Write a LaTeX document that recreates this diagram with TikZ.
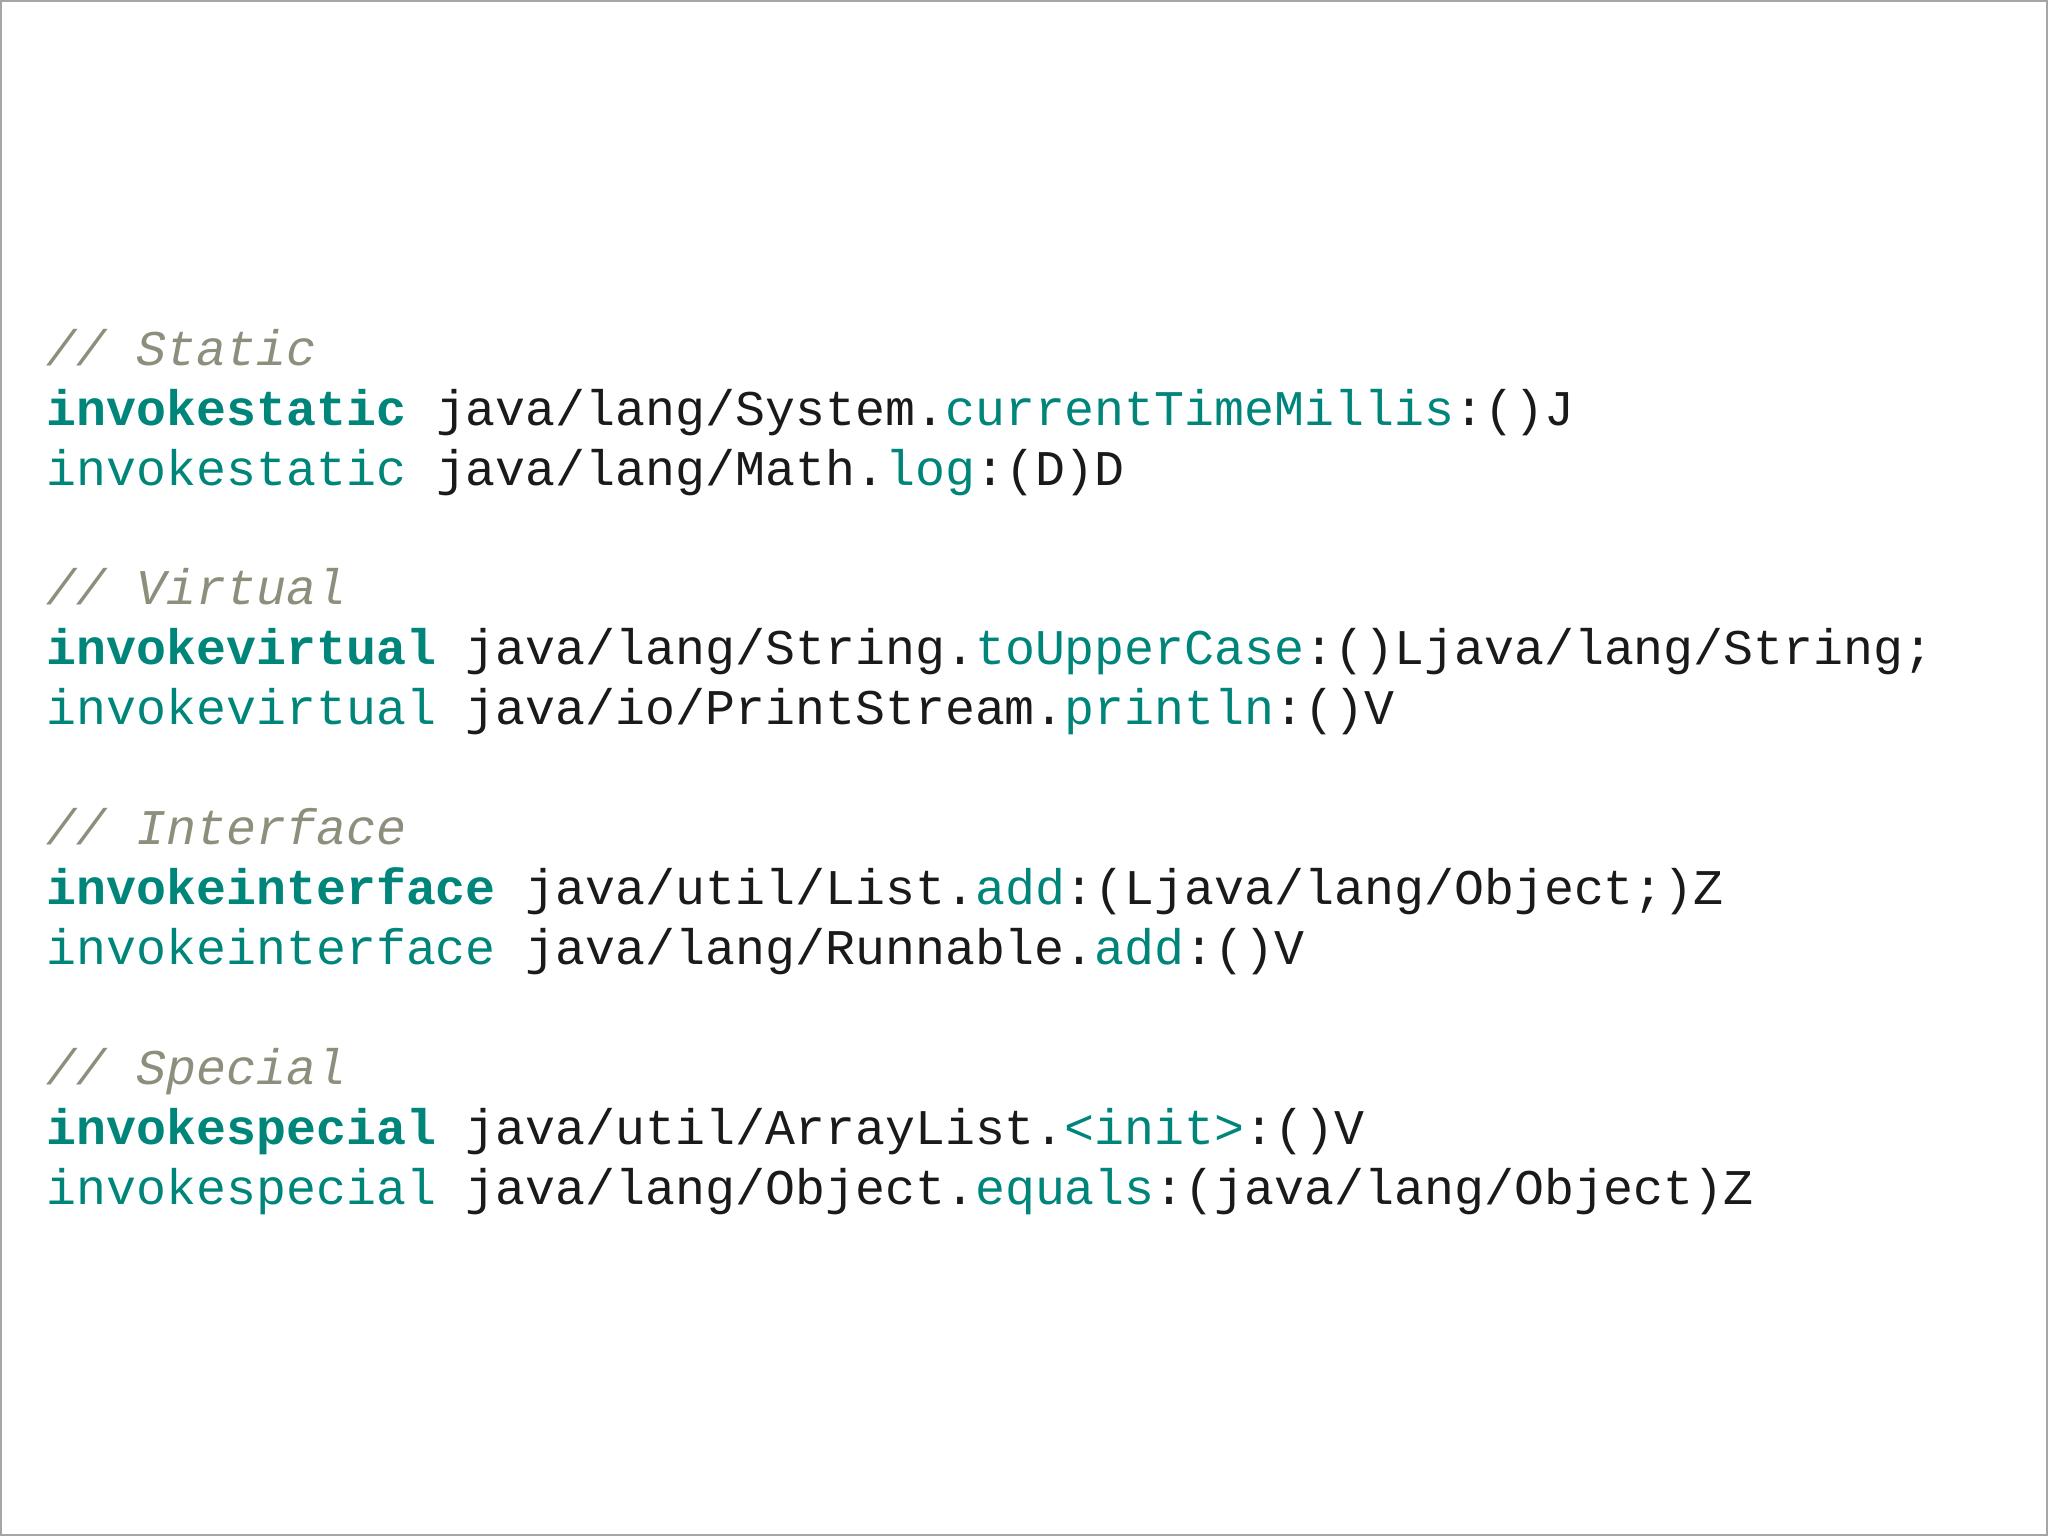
\documentclass[tikz,border=0pt]{standalone}
\usepackage{fontspec}
\setmonofont{Liberation Mono}
\definecolor{tealc}{HTML}{00857A}
\definecolor{cmtc}{HTML}{8E8E7C}
\definecolor{txtc}{HTML}{1A1A1A}
\begin{document}
\begin{tikzpicture}[x=1cm,y=1cm,
  codeline/.style={anchor=base west,inner sep=0pt,font=\ttfamily\fontsize{14.2pt}{16pt}\selectfont,text=txtc},
  cmtline/.style={codeline,font=\ttfamily\itshape\fontsize{14.2pt}{16pt}\selectfont,text=cmtc}]
\newcommand{\kw}[1]{\textcolor{tealc}{#1}}
\newcommand{\kb}[1]{\textcolor{tealc}{\bfseries #1}}
\fill[white] (0,0) rectangle (20.48,15.36);
\draw[gray!70,line width=0.3pt] (0.01,0.01) rectangle (20.47,15.35);
\node[cmtline] (c1) at (0.46,11.70) {// Static};
\node[codeline] (l1) at (0.46,11.10) {\kb{invokestatic} java/lang/System.\kw{currentTimeMillis}:()J};
\node[codeline] (l2) at (0.46,10.50) {\kw{invokestatic} java/lang/Math.\kw{log}:(D)D};
\node[cmtline] (c2) at (0.46,9.31) {// Virtual};
\node[codeline] (l3) at (0.46,8.71) {\kb{invokevirtual} java/lang/String.\kw{toUpperCase}:()Ljava/lang/String;};
\node[codeline] (l4) at (0.46,8.11) {\kw{invokevirtual} java/io/PrintStream.\kw{println}:()V};
\node[cmtline] (c3) at (0.46,6.91) {// Interface};
\node[codeline] (l5) at (0.46,6.31) {\kb{invokeinterface} java/util/List.\kw{add}:(Ljava/lang/Object;)Z};
\node[codeline] (l6) at (0.46,5.71) {\kw{invokeinterface} java/lang/Runnable.\kw{add}:()V};
\node[cmtline] (c4) at (0.46,4.51) {// Special};
\node[codeline] (l7) at (0.46,3.91) {\kb{invokespecial} java/util/ArrayList.\kw{<init>}:()V};
\node[codeline] (l8) at (0.46,3.31) {\kw{invokespecial} java/lang/Object.\kw{equals}:(java/lang/Object)Z};
\end{tikzpicture}
\end{document}
